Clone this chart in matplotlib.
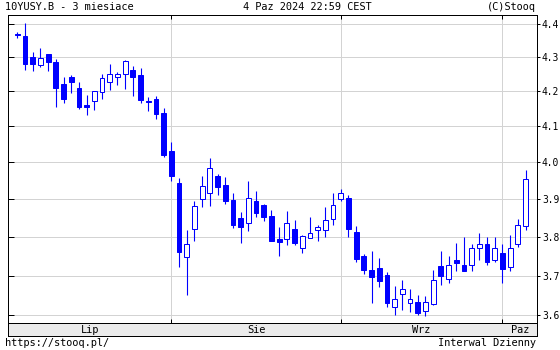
import matplotlib
matplotlib.use("Agg")
import matplotlib.pyplot as plt
import numpy as np
import pandas as pd
from matplotlib.ticker import FixedLocator, NullFormatter, NullLocator

# ---- data ----
dates = pd.bdate_range("2024-07-04", "2024-10-04")
opens = [4.368, 4.364, 4.300, 4.276, 4.309, 4.286, 4.222, 4.241, 4.211, 4.162,
         4.172, 4.198, 4.228, 4.243, 4.252, 4.263, 4.247, 4.172, 4.177, 4.139,
         4.031, 3.944, 3.748, 3.820, 3.900, 3.917, 3.963, 3.937, 3.898, 3.850,
         3.836, 3.895, 3.884, 3.855, 3.793, 3.793, 3.821, 3.770, 3.796, 3.817,
         3.819, 3.847, 3.900, 3.903, 3.812, 3.749, 3.713, 3.720, 3.701, 3.621,
         3.653, 3.631, 3.632, 3.610, 3.628, 3.725, 3.692, 3.741, 3.728, 3.726,
         3.772, 3.780, 3.740, 3.759, 3.722, 3.780, 3.829]
highs = [4.374, 4.404, 4.316, 4.328, 4.311, 4.296, 4.242, 4.247, 4.226, 4.190,
         4.201, 4.250, 4.280, 4.257, 4.292, 4.273, 4.269, 4.184, 4.187, 4.151,
         4.055, 3.956, 3.819, 3.896, 3.963, 4.013, 3.968, 3.961, 3.915, 3.865,
         3.949, 3.922, 3.888, 3.871, 3.827, 3.869, 3.845, 3.806, 3.852, 3.832,
         3.878, 3.917, 3.927, 3.911, 3.829, 3.756, 3.762, 3.746, 3.708, 3.674,
         3.688, 3.667, 3.650, 3.648, 3.713, 3.762, 3.749, 3.785, 3.800, 3.782,
         3.810, 3.800, 3.800, 3.780, 3.806, 3.846, 3.979]
lows = [4.358, 4.263, 4.261, 4.270, 4.261, 4.155, 4.168, 4.195, 4.149, 4.133,
        4.146, 4.179, 4.203, 4.218, 4.207, 4.188, 4.166, 4.145, 4.122, 4.014,
        3.948, 3.721, 3.650, 3.789, 3.879, 3.881, 3.911, 3.888, 3.823, 3.784,
        3.814, 3.851, 3.841, 3.789, 3.750, 3.779, 3.779, 3.757, 3.796, 3.790,
        3.800, 3.831, 3.894, 3.799, 3.734, 3.704, 3.630, 3.671, 3.621, 3.601,
        3.612, 3.607, 3.602, 3.599, 3.626, 3.677, 3.680, 3.711, 3.712, 3.712,
        3.739, 3.726, 3.735, 3.681, 3.711, 3.773, 3.817]
closes = [4.366, 4.279, 4.281, 4.299, 4.285, 4.209, 4.179, 4.226, 4.155, 4.155,
          4.201, 4.240, 4.252, 4.252, 4.288, 4.241, 4.176, 4.170, 4.134, 4.021,
          3.962, 3.760, 3.780, 3.882, 3.935, 3.983, 3.933, 3.896, 3.831, 3.826,
          3.903, 3.863, 3.852, 3.789, 3.787, 3.837, 3.784, 3.802, 3.809, 3.825,
          3.845, 3.884, 3.916, 3.821, 3.742, 3.714, 3.695, 3.686, 3.631, 3.641,
          3.666, 3.641, 3.605, 3.634, 3.689, 3.699, 3.728, 3.733, 3.712, 3.770,
          3.782, 3.735, 3.770, 3.717, 3.770, 3.832, 3.955]
month_labels = ["Lip", "Sie", "Wrz", "Paz"]
y_ticks = [3.6, 3.7, 3.8, 3.9, 4.0, 4.1, 4.2, 4.3, 4.4]
title_left = "10YUSY.B - 3 miesiace"
title_mid = "4 Paz 2024 22:59 CEST"
title_right = "(C)Stooq"
foot_left = "https://stooq.pl/"
foot_right = "Interwal Dzienny"

# ---- figure ----
W, H = 560, 350
fig = plt.figure(figsize=(W / 100, H / 100), dpi=100)
fig.patch.set_facecolor("white")
mono = "DejaVu Sans Mono"
fs = 7.4
blue = "#0000ff"
grid_c = "#d3d3d3"
px = 0.72  # 1 pixel in points

L, R, T, B = 8, 537, 15, 323
ax = fig.add_axes([L / W, 1 - B / H, (R - L) / W, (B - T) / H])
ax.set_yscale("log")
n = len(opens)
x = np.arange(n)
xlo, xhi = -1.21, 67.49
ax.set_xlim(xlo, xhi)
ax.set_ylim(3.581, 4.427)

# month boundaries
months = dates.month
starts = [i for i in range(1, n) if months[i] != months[i - 1]]
for s in starts:
    ax.axvline(s, color=grid_c, lw=1 * px, zorder=0)
for yt in y_ticks:
    ax.axhline(yt, color=grid_c, lw=1 * px, zorder=0)

# candles
o = np.array(opens); c = np.array(closes)
hgh = np.array(highs); lw_ = np.array(lows)
ax.vlines(x, lw_, hgh, color=blue, lw=1.1 * px, zorder=2)
up = c >= o
bottoms = np.minimum(o, c)
heights = np.abs(c - o)
face = np.where(up, "white", blue)
ax.bar(x, heights, bottom=bottoms, width=0.62, color=list(face),
       edgecolor=blue, linewidth=1.0 * px, zorder=3)

# spines & ticks
for sp in ax.spines.values():
    sp.set_color("black")
    sp.set_linewidth(1 * px)
ax.yaxis.set_major_locator(FixedLocator(y_ticks))
ax.yaxis.set_minor_locator(NullLocator())
ax.yaxis.set_major_formatter(matplotlib.ticker.FixedFormatter([f"{v:.1f}" for v in y_ticks]))
ax.yaxis.set_minor_formatter(NullFormatter())
ax.tick_params(axis="y", which="both", left=False, right=True, labelleft=False,
               labelright=True, direction="out", length=2.5, width=1 * px,
               labelsize=6.9, pad=1.0)
for lab in ax.get_yticklabels():
    lab.set_fontfamily(mono)
ax.set_xticks(starts)
ax.tick_params(axis="x", which="both", top=True, bottom=True, direction="in",
               length=3, width=1 * px, labelbottom=False)

# left inward ticks
sec = ax.secondary_yaxis("left")
sec.set_yscale("log")
sec.yaxis.set_major_locator(FixedLocator(y_ticks))
sec.yaxis.set_minor_locator(NullLocator())
sec.yaxis.set_major_formatter(NullFormatter())
sec.yaxis.set_minor_formatter(NullFormatter())
sec.tick_params(axis="y", which="both", direction="in", length=4, width=1 * px)
sec.spines["left"].set_linewidth(1 * px)

# month band
band_b = 336
bax = fig.add_axes([L / W, 1 - band_b / H, (R - L) / W, (band_b - B) / H])
bax.set_facecolor("#ebebeb")
bax.set_xlim(xlo, xhi)
bax.set_ylim(0, 1)
bax.set_xticks([]); bax.set_yticks([])
for sp in bax.spines.values():
    sp.set_color("black")
    sp.set_linewidth(1 * px)
bounds = [xlo] + starts + [xhi]
for i, lab in enumerate(month_labels):
    bax.text((bounds[i] + bounds[i + 1]) / 2, 0.45, lab, ha="center", va="center",
             fontsize=fs, family=mono)

# header / footer
fig.text(5 / W, 1 - 7 / H, title_left, ha="left", va="center", fontsize=fs, family=mono)
fig.text(307 / W, 1 - 7 / H, title_mid, ha="center", va="center", fontsize=fs, family=mono)
fig.text(536 / W, 1 - 7 / H, title_right, ha="right", va="center", fontsize=fs, family=mono)
fig.text(5 / W, 1 - 343 / H, foot_left, ha="left", va="center", fontsize=fs, family=mono)
fig.text(536 / W, 1 - 343 / H, foot_right, ha="right", va="center", fontsize=fs, family=mono)

fig.savefig("out.png", dpi=100, facecolor="white")
